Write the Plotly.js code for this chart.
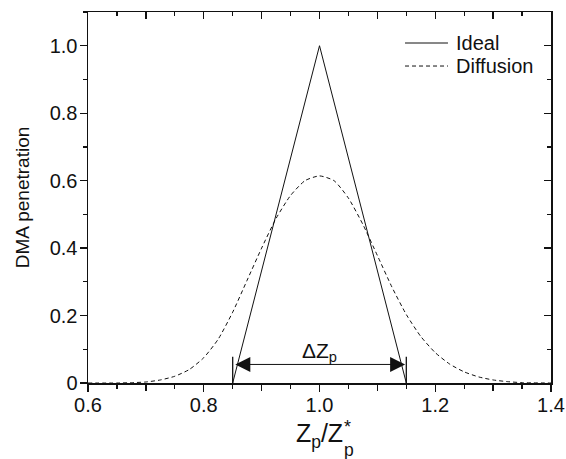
<!DOCTYPE html>
<html>
<head>
<meta charset="utf-8">
<script src="https://cdn.plot.ly/plotly-3.0.1.min.js"></script>
<style>html,body{margin:0;padding:0;background:#fff;}#chart{width:566px;height:459px;}</style>
</head>
<body>
<div id="chart"></div>
<script>
// Ideal (triangular) transfer function
var idealX = [0.85, 1.0, 1.15];
var idealY = [0.0, 1.0, 0.0];

// Diffusion transfer function
var diffX = [0.60, 0.65, 0.675, 0.70, 0.725, 0.75, 0.775, 0.80, 0.825, 0.85, 0.875, 0.90, 0.925, 0.95, 0.975, 1.00,
             1.025, 1.05, 1.075, 1.10, 1.125, 1.15, 1.175, 1.20, 1.225, 1.25, 1.275, 1.30, 1.325, 1.35, 1.40];
var diffY = [0.000, 0.000, 0.001, 0.003, 0.009, 0.020, 0.040, 0.075, 0.130, 0.210, 0.305, 0.400, 0.488, 0.556, 0.600, 0.614,
             0.600, 0.548, 0.470, 0.378, 0.285, 0.203, 0.138, 0.090, 0.056, 0.033, 0.018, 0.009, 0.004, 0.001, 0.000];

var xLabelVals = [0.6, 0.8, 1.0, 1.2, 1.4];
var xLabelText = ['0.6', '0.8', '1.0', '1.2', '1.4'];
var xMidVals = [0.7, 0.9, 1.1, 1.3];
var xAllMajor = [0.6, 0.7, 0.8, 0.9, 1.0, 1.1, 1.2, 1.3, 1.4];
var xMinorVals = [0.65, 0.75, 0.85, 0.95, 1.05, 1.15, 1.25, 1.35];
var yTickVals = [0, 0.2, 0.4, 0.6, 0.8, 1.0];
var yTickText = ['0', '0.2', '0.4', '0.6', '0.8', '1.0'];
var yMinorVals = [0.1, 0.3, 0.5, 0.7, 0.9, 1.1];

var legendNames = ['Ideal', 'Diffusion'];
var bandLow = 0.85, bandHigh = 1.15;

var FONT = '"Liberation Sans", Arial, sans-serif';
var INK = '#111';

var traces = [
  {x: idealX, y: idealY, mode: 'lines', name: legendNames[0],
   line: {color: INK, width: 1}, showlegend: false, hoverinfo: 'skip'},
  {x: diffX, y: diffY, mode: 'lines', name: legendNames[1],
   line: {color: INK, width: 1, dash: '4px,3px', shape: 'spline', smoothing: 0.6}, showlegend: false, hoverinfo: 'skip'},
  {x: [], y: [], xaxis: 'x2', yaxis: 'y2', mode: 'lines', showlegend: false, hoverinfo: 'skip'},
  {x: [], y: [], xaxis: 'x3', yaxis: 'y', mode: 'lines', showlegend: false, hoverinfo: 'skip'}
];

function axBase() {
  return {showgrid: false, zeroline: false, showline: true, linecolor: INK, linewidth: 1.5,
    tickcolor: INK, tickwidth: 1.3, tickfont: {family: FONT, size: 20, color: INK}};
}

var layout = {
  width: 566, height: 459,
  margin: {l: 88, r: 15, t: 12, b: 76},
  paper_bgcolor: '#fff', plot_bgcolor: '#fff',
  font: {family: FONT, color: INK},
  xaxis: Object.assign(axBase(), {
    range: [0.6, 1.4], tickmode: 'array', tickvals: xLabelVals, ticktext: xLabelText,
    ticks: 'outside', ticklen: 7, ticklabelstandoff: -4,
    minor: {tickmode: 'array', tickvals: xMinorVals, ticks: 'outside', ticklen: 4, tickcolor: INK, tickwidth: 1.3},
    title: {text: 'Z<sub>p</sub>/Z', font: {family: FONT, size: 25, color: INK}, standoff: 10}
  }),
  xaxis3: Object.assign(axBase(), {
    overlaying: 'x', side: 'bottom', anchor: 'y', range: [0.6, 1.4], showline: false,
    tickmode: 'array', tickvals: xMidVals, ticks: 'outside', ticklen: 7, showticklabels: false
  }),
  yaxis: Object.assign(axBase(), {
    range: [0, 1.1], tickmode: 'array', tickvals: yTickVals, ticktext: yTickText,
    ticks: 'outside', ticklen: 7, ticklabelstandoff: -2,
    minor: {tickmode: 'array', tickvals: yMinorVals, ticks: 'outside', ticklen: 4, tickcolor: INK, tickwidth: 1.3},
    title: {text: 'DMA penetration', font: {family: FONT, size: 19, color: INK}, standoff: 15}
  }),
  xaxis2: Object.assign(axBase(), {
    overlaying: 'x', side: 'top', anchor: 'y', range: [0.6, 1.4],
    tickmode: 'array', tickvals: xAllMajor, ticks: 'inside', ticklen: 7, showticklabels: false,
    minor: {tickmode: 'array', tickvals: xMinorVals, ticks: 'inside', ticklen: 4, tickcolor: INK, tickwidth: 1.3}
  }),
  yaxis2: Object.assign(axBase(), {
    overlaying: 'y', side: 'right', anchor: 'x', range: [0, 1.1],
    tickmode: 'array', tickvals: yTickVals, ticks: 'inside', ticklen: 7, showticklabels: false,
    minor: {tickmode: 'array', tickvals: yMinorVals, ticks: 'inside', ticklen: 4, tickcolor: INK, tickwidth: 1.3}
  }),
  shapes: [
    {type: 'line', xref: 'x', yref: 'y', x0: bandLow, x1: bandLow, y0: 0, y1: 0.078, line: {color: INK, width: 1.3}},
    {type: 'line', xref: 'x', yref: 'y', x0: bandHigh, x1: bandHigh, y0: 0, y1: 0.078, line: {color: INK, width: 1.3}},
    // custom legend samples
    {type: 'line', xref: 'paper', yref: 'paper', x0: 0.6847, x1: 0.7775, y0: 0.9164, y1: 0.9164, line: {color: INK, width: 1}},
    {type: 'line', xref: 'paper', yref: 'paper', x0: 0.6847, x1: 0.7775, y0: 0.8544, y1: 0.8544, line: {color: INK, width: 1, dash: '4px,3px'}}
  ],
  annotations: [
    {x: bandHigh - 0.002, y: 0.055, ax: bandLow + 0.002, ay: 0.055, xref: 'x', yref: 'y', axref: 'x', ayref: 'y',
     text: '', showarrow: true, arrowhead: 2, arrowside: 'end+start', arrowsize: 3, arrowwidth: 1, arrowcolor: INK},
    {x: 1.0, y: 0.05, xref: 'x', yref: 'y', text: '\u0394Z<sub>p</sub>', showarrow: false, borderpad: 0,
     xanchor: 'center', yanchor: 'bottom', font: {family: FONT, size: 21, color: INK}},
    {x: 0.7927, y: 0.9164, xref: 'paper', yref: 'paper', text: legendNames[0], showarrow: false, borderpad: 0,
     xanchor: 'left', yanchor: 'middle', font: {family: FONT, size: 20, color: INK}},
    {x: 0.7927, y: 0.8544, xref: 'paper', yref: 'paper', text: legendNames[1], showarrow: false, borderpad: 0,
     xanchor: 'left', yanchor: 'middle', font: {family: FONT, size: 20, color: INK}},
    // stacked sub/superscript of the x-axis title: Z_p^*
    {x: 0.5518, y: -0.1483, xref: 'paper', yref: 'paper', text: '*', showarrow: false, borderpad: 0,
     xanchor: 'left', yanchor: 'bottom', font: {family: FONT, size: 18, color: INK}},
    {x: 0.5518, y: -0.1496, xref: 'paper', yref: 'paper', text: 'p', showarrow: false, borderpad: 0,
     xanchor: 'left', yanchor: 'top', font: {family: FONT, size: 17.5, color: INK}}
  ]
};

Plotly.newPlot('chart', traces, layout, {staticPlot: true, displayModeBar: false});
</script>
</body>
</html>
